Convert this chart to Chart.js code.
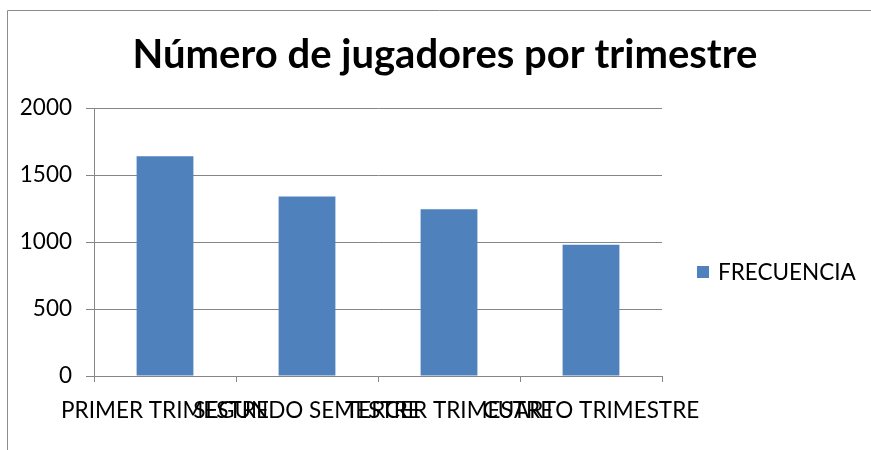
<!DOCTYPE html>
<html>
<head>
<meta charset="utf-8">
<script src="https://cdn.jsdelivr.net/npm/chart.js@4"></script>
<style>
html,body{margin:0;padding:0;background:#fff;}
#wrap{position:relative;width:871px;height:450px;}
</style>
</head>
<body>
<div id="wrap"><canvas id="c" width="871" height="450"></canvas></div>
<script>
const categories = ["PRIMER TRIMESTRE", "SEGUNDO SEMESTRE", "TERCER TRIMESTRE", "CUARTO TRIMESTRE"];
const frecuencia = [1640, 1340, 1245, 980];
const yTicks = [0, 500, 1000, 1500, 2000];
const seriesName = "FRECUENCIA";
const titleText = "Número de jugadores por trimestre";

const FONT = "Lato";
const AXIS = "#868686";
const BAR = "#4F81BD";

const framePlugin = {
  id: "frame",
  beforeDraw(chart) {
    const ctx = chart.ctx;
    ctx.save();
    ctx.fillStyle = "#fff";
    ctx.fillRect(0, 0, chart.width, chart.height);
    ctx.strokeStyle = "#8c8c8c";
    ctx.lineWidth = 1;
    ctx.beginPath();
    ctx.moveTo(7.5, chart.height);
    ctx.lineTo(7.5, 10.5);
    ctx.lineTo(chart.width, 10.5);
    ctx.stroke();
    ctx.restore();
  }
};

const legendPlugin = {
  id: "sideLegend",
  afterDraw(chart) {
    const ctx = chart.ctx;
    const ds = chart.data.datasets[0];
    const x = chart.chartArea.right + 35;
    const y = 272;
    ctx.save();
    ctx.fillStyle = ds.backgroundColor;
    ctx.fillRect(x, y - 6, 12, 12);
    ctx.fillStyle = "#000";
    ctx.font = "22.5px " + FONT;
    ctx.textBaseline = "middle";
    ctx.textAlign = "left";
    ctx.fillText(ds.label, x + 21, y + 1);
    ctx.restore();
  }
};

new Chart(document.getElementById("c"), {
  type: "bar",
  data: {
    labels: categories,
    datasets: [{
      label: seriesName,
      data: frecuencia,
      backgroundColor: BAR,
      borderWidth: 0,
      barPercentage: 0.4,
      categoryPercentage: 1.0,
      yAxisID: "y"
    }]
  },
  plugins: [framePlugin, legendPlugin],
  options: {
    responsive: false,
    animation: false,
    devicePixelRatio: 1,
    layout: { padding: { left: 19, right: 0, top: 0, bottom: 0 } },
    plugins: {
      legend: { display: false },
      tooltip: { enabled: false },
      title: {
        display: true,
        text: titleText,
        color: "#000",
        font: { family: FONT, size: 40, weight: "bold" },
        padding: { top: 31, bottom: 29 }
      }
    },
    scales: {
      x: {
        type: "category",
        grid: { display: true, drawOnChartArea: false, drawTicks: true, tickLength: 6, color: AXIS, offset: true },
        border: { display: true, color: AXIS, width: 1 },
        ticks: {
          color: "#000",
          font: { family: FONT, size: 22.5 },
          maxRotation: 0, minRotation: 0, autoSkip: false,
          padding: 15
        },
        afterFit(s) { s.height = 74; }
      },
      y: {
        type: "linear",
        position: "left",
        min: 0, max: 2000,
        afterBuildTicks(s) { s.ticks = yTicks.map(v => ({ value: v })); },
        grid: { color: AXIS, tickLength: 8, drawTicks: true },
        border: { display: true, color: AXIS, width: 1 },
        ticks: {
          color: "#000",
          font: { family: FONT, size: 22.5 },
          padding: 14,
          callback: (v) => String(v)
        },
        afterFit(s) { s.width = 75; }
      },
      yR: {
        type: "linear",
        position: "right",
        display: true,
        grid: { display: false },
        border: { display: false },
        ticks: { display: false },
        afterFit(s) { s.width = 209; }
      }
    }
  }
});
</script>
</body>
</html>
